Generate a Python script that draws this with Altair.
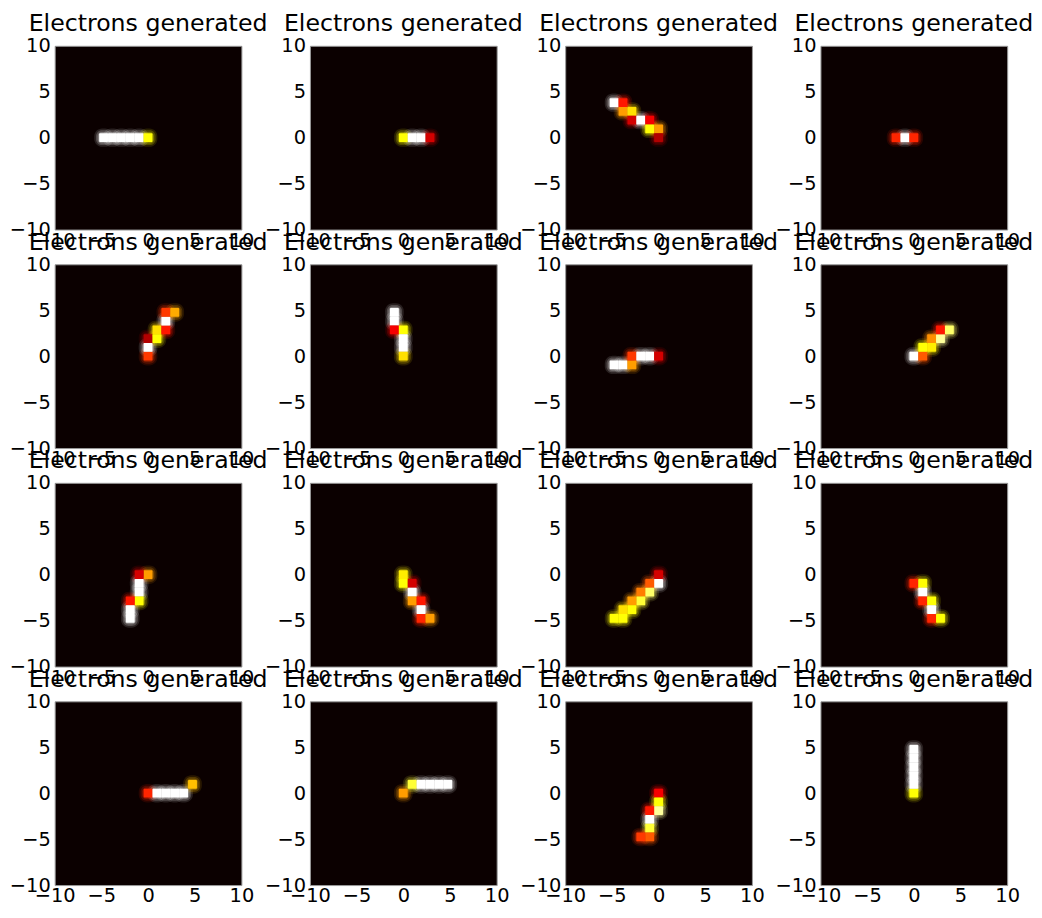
import altair as alt
import pandas as pd

TITLE = "Electrons generated"
TICKS = [-10, -5, 0, 5, 10]
GRID_N = 21          # pixels per side of each image
EXTENT = 10          # image spans -EXTENT..EXTENT

# pixel indices (column i, row j) and intensities for each of the 16 panels
X_IDX = [
    [-5, -4, -3, -2, -1, 0],
    [0, 1, 2, 3],
    [-5, -4, -4, -3, -3, -2, -1, -1, 0, 0],
    [-2, -1, 0],
    [0, 0, 0, 1, 1, 2, 2, 2, 3],
    [-1, -1, -1, 0, 0, 0, 0],
    [-5, -4, -3, -3, -2, -1, 0],
    [0, 1, 1, 2, 2, 3, 3, 4],
    [0, -1, -1, -1, -1, -2, -2, -2],
    [0, 0, 1, 1, 1, 2, 2, 2, 3],
    [0, 0, -1, -1, -2, -2, -3, -3, -4, -4, -5],
    [0, 1, 1, 1, 2, 2, 2, 3],
    [0, 1, 2, 3, 4, 5],
    [0, 1, 2, 3, 4, 5],
    [0, 0, 0, -1, -1, -1, -1, -2],
    [0, 0, 0, 0, 0, 0],
]
Y_IDX = [
    [0, 0, 0, 0, 0, 0],
    [0, 0, 0, 0],
    [4, 4, 3, 3, 2, 2, 2, 1, 1, 0],
    [0, 0, 0],
    [0, 1, 2, 2, 3, 3, 4, 5, 5],
    [5, 4, 3, 3, 2, 1, 0],
    [-1, -1, -1, 0, 0, 0, 0],
    [0, 0, 1, 1, 2, 2, 3, 3],
    [0, 0, -1, -2, -3, -3, -4, -5],
    [0, -1, -1, -2, -3, -3, -4, -5, -5],
    [0, -1, -1, -2, -2, -3, -3, -4, -4, -5, -5],
    [-1, -1, -2, -3, -3, -4, -5, -5],
    [0, 0, 0, 0, 0, 1],
    [0, 1, 1, 1, 1, 1],
    [0, -1, -2, -2, -3, -4, -5, -5],
    [0, 1, 2, 3, 4, 5],
]
VALUES = [
    [1, 1, 1, 1, 1, 0.75],
    [0.75, 1, 1, 0.3],
    [1, 0.4, 0.6, 0.7, 0.3, 1, 0.35, 0.75, 0.6, 0.25],
    [0.42, 1, 0.42],
    [0.45, 1, 0.25, 0.75, 0.7, 0.4, 1, 0.45, 0.62],
    [1, 1, 0.35, 0.75, 1, 1, 0.7],
    [1, 1, 0.6, 0.45, 1, 1, 0.3],
    [1, 0.5, 0.75, 0.72, 0.58, 0.9, 0.4, 0.85],
    [0.6, 0.3, 1, 1, 0.75, 0.4, 1, 1],
    [0.72, 0.75, 0.3, 1, 0.6, 0.4, 1, 0.42, 0.6],
    [0.3, 1, 0.5, 0.85, 0.55, 0.8, 0.6, 0.75, 0.7, 0.75, 0.75],
    [0.42, 0.75, 1, 0.42, 0.75, 1, 0.42, 0.75],
    [0.42, 1, 1, 1, 1, 0.65],
    [0.6, 0.8, 1, 1, 1, 1],
    [0.35, 0.75, 0.9, 0.4, 1, 0.8, 0.5, 0.45],
    [0.75, 1, 1, 1, 1, 1],
]

HOT_STOPS = [0, 0.365, 0.746, 1]
HOT_COLORS = ["#0b0000", "#ff0000", "#ffff00", "#ffffff"]

STEP = 2 * EXTENT / GRID_N
FONT = "DejaVu Sans"

color_scale = alt.Scale(domain=HOT_STOPS, range=HOT_COLORS, interpolate="rgb", clamp=True)
pos_scale = alt.Scale(domain=[-EXTENT, EXTENT], nice=False, zero=False)
x_axis = alt.Axis(values=TICKS, title=None, labelFlush=False, labelOverlap=False,
                  labelPadding=2, ticks=False, domain=False, grid=False)
y_axis = alt.Axis(values=TICKS, title=None, labelOverlap=False,
                  labelPadding=4.5, ticks=False, domain=False, grid=False)


def cell_layer(data, half, opacity, radius=0):
    return alt.Chart(data).transform_calculate(
        x0=f"(datum.i - {half}) * {STEP}",
        x1=f"(datum.i + {half}) * {STEP}",
        y0=f"(datum.j - {half}) * {STEP}",
        y1=f"(datum.j + {half}) * {STEP}",
    ).mark_rect(opacity=opacity, clip=True, strokeWidth=0, cornerRadius=radius).encode(
        x=alt.X("x0:Q", scale=pos_scale, axis=x_axis),
        x2="x1:Q",
        y=alt.Y("y0:Q", scale=pos_scale, axis=y_axis),
        y2="y1:Q",
        color=alt.Color("v:Q", scale=color_scale, legend=None),
    )


charts = []
for xs, ys, vs in zip(X_IDX, Y_IDX, VALUES):
    df = pd.DataFrame({"i": xs, "j": ys, "v": vs})
    panel = alt.layer(
        cell_layer(df, 1.05, 0.12, 8),
        cell_layer(df, 0.85, 0.2, 6),
        cell_layer(df, 0.66, 0.28, 4),
        cell_layer(df, 0.5, 1.0, 1),
    ).properties(
        width=188, height=185,
        title=alt.TitleParams(TITLE, frame="group", anchor="middle", offset=0),
    )
    charts.append(panel)

chart = alt.concat(
    *charts, columns=4, spacing={"row": 35, "column": 69}, bounds="flush"
).properties(
    padding={"left": 0, "top": 0, "right": 0, "bottom": -3}
).configure_view(
    fill="#0b0000", stroke="#999999", strokeWidth=1
).configure_axis(
    labelFont=FONT, labelFontSize=19.5, labelColor="black"
).configure_title(
    font=FONT, fontSize=23.8, fontWeight="normal", color="black"
)

chart.save("out.html", embed_options={"renderer": "svg", "actions": False})
